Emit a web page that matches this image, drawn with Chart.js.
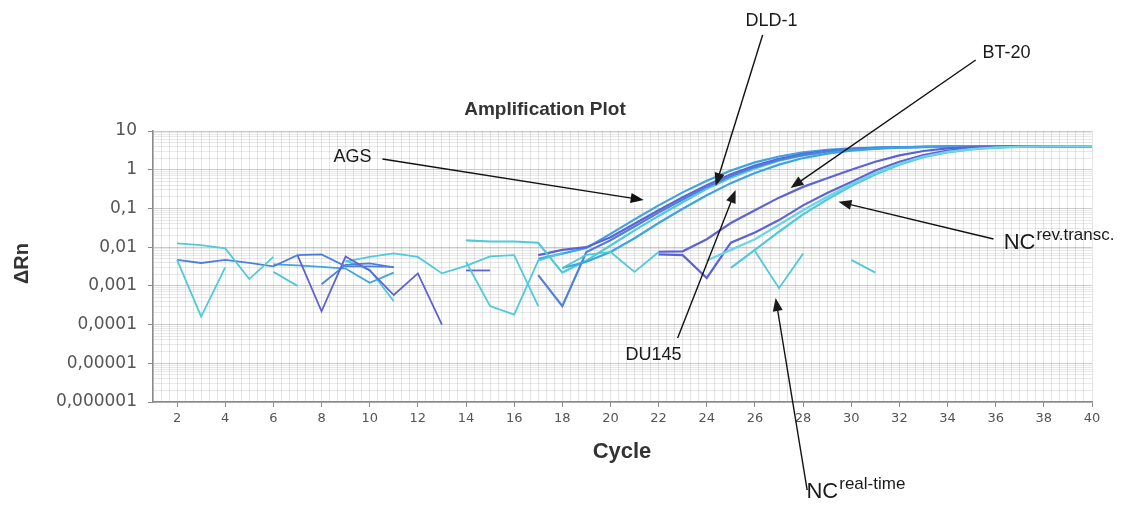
<!DOCTYPE html>
<html>
<head>
<meta charset="utf-8">
<title>Amplification Plot</title>
<script src="https://cdn.jsdelivr.net/npm/chart.js@4.4.1/dist/chart.umd.min.js"></script>
<style>
  html, body { margin: 0; padding: 0; background: #fff; }
  #wrap { width: 1126px; height: 513px; position: relative; }
</style>
</head>
<body>
<div id="wrap"><canvas id="amp"></canvas></div>
<script>
const _ = null;

// cycle axis + log axis labels
const cycles = [1,2,3,4,5,6,7,8,9,10,11,12,13,14,15,16,17,18,19,20,21,22,23,24,25,26,27,28,29,30,31,32,33,34,35,36,37,38,39,40];
const xLabelCycles = [2,4,6,8,10,12,14,16,18,20,22,24,26,28,30,32,34,36,38,40];
const yDecades = [0.000001, 0.00001, 0.0001, 0.001, 0.01, 0.1, 1, 10];
const yTickLabels = ['0,000001', '0,00001', '0,0001', '0,001', '0,01', '0,1', '1', '10'];

// ΔRn per cycle, one array per well (null = no log value)
const ags = [
  _,_,_,_,_,_,_,_,_,_,
  _,_,_,_,_,_,0.0050,0.0068,0.0095,0.022,
  0.052,0.12,0.26,0.52,0.95,1.55,2.2,2.8,3.25,3.55,
  3.75,3.85,3.92,3.96,3.98,4.0,4.0,4.0,4.0,4.0];
const dld1 = [
  _,_,_,_,_,_,_,_,_,_,
  _,_,_,_,_,_,0.0062,0.0085,0.0100,0.018,
  0.040,0.090,0.195,0.40,0.76,1.28,1.92,2.55,3.05,3.42,
  3.66,3.80,3.88,3.93,3.96,3.98,4.0,4.0,4.0,4.0];
const dld1Rep = [
  _,_,_,_,_,_,_,_,_,_,
  _,_,_,0.015,0.014,0.014,0.013,0.0022,0.0045,0.011,
  0.027,0.064,0.145,0.32,0.62,1.08,1.7,2.35,2.9,3.3,
  3.58,3.75,3.86,3.92,3.95,3.98,4.0,4.0,4.0,4.0];
const du145 = [
  _,_,_,_,_,_,_,_,_,_,
  _,_,_,_,_,_,0.0019,0.0003,0.0075,0.015,
  0.034,0.078,0.17,0.36,0.69,1.17,1.78,2.42,2.95,3.35,
  3.6,3.78,3.88,3.93,3.96,3.98,4.0,4.0,4.0,4.0];
const du145Rep = [
  _,_,_,_,_,_,_,_,_,_,
  _,_,_,_,_,_,_,0.0029,0.0042,0.0075,
  0.017,0.042,0.098,0.22,0.45,0.82,1.35,2.0,2.6,3.1,
  3.45,3.7,3.83,3.9,3.95,3.98,4.0,4.0,4.0,4.0];
const bt20 = [
  _,_,_,_,_,_,_,_,_,_,
  _,_,_,_,_,_,_,_,_,_,
  _,0.0076,0.0078,0.016,0.042,0.09,0.19,0.36,0.6,1.0,
  1.6,2.35,3.05,3.55,3.82,3.94,3.98,4.0,4.0,4.0];
const bt20Rep = [
  _,_,_,_,_,_,_,_,_,_,
  _,_,_,_,_,_,_,_,_,_,
  _,0.0065,0.0062,0.0016,0.013,0.024,0.05,0.12,0.25,0.48,
  0.95,1.6,2.4,3.1,3.55,3.82,3.95,4.0,4.0,4.0];
const ncRevTransc = [
  _,_,_,_,_,_,_,_,_,_,
  _,_,_,_,_,_,_,_,_,_,
  _,_,_,_,0.0029,0.0085,0.025,0.07,0.17,0.38,
  0.75,1.35,2.1,2.8,3.35,3.7,3.9,3.98,4.0,4.0];
const ncRevTranscRep = [
  _,_,_,_,_,_,_,_,_,_,
  _,_,_,_,_,_,_,_,_,_,
  _,_,_,0.0045,0.0085,0.016,0.038,0.09,0.2,0.42,
  0.82,1.42,2.2,2.9,3.42,3.75,3.92,3.98,4.0,4.0];
const ncRealTime = [
  _,_,_,_,_,_,_,_,_,_,
  _,_,_,_,_,_,_,_,_,_,
  _,_,_,_,_,0.008,0.00087,0.0068,_,0.0047,
  0.0022,_,_,_,_,_,_,_,_,_];

// background-only wells
const ntc1 = [_,0.0125,0.0113,0.0093,0.0015,0.0056,_,_,_,_, _,_,_,_,_,_,_,_,_,_, _,_,_,_,_,_,_,_,_,_, _,_,_,_,_,_,_,_,_,_];
const ntc2 = [_,0.0047,0.00016,0.0030,_,_,_,_,_,_, _,_,_,_,_,_,_,_,_,_, _,_,_,_,_,_,_,_,_,_, _,_,_,_,_,_,_,_,_,_];
const ntc3 = [_,0.0047,0.0039,0.0047,0.0039,0.0032,0.0062,0.0065,0.0032,0.0032, 0.0031,_,_,_,_,_,_,_,_,_, _,_,_,_,_,_,_,_,_,_, _,_,_,_,_,_,_,_,_,_];
const ntc4 = [_,_,_,_,_,_,0.0062,0.00022,0.0057,0.0025, 0.00058,0.0021,0.0001,_,_,_,_,_,_,_, _,_,_,_,_,_,_,_,_,_, _,_,_,_,_,_,_,_,_,_];
const ntc5 = [_,_,_,_,_,_,_,0.0011,0.0035,0.0038, 0.0030,_,_,_,_,_,_,_,_,_, _,_,_,_,_,_,_,_,_,_, _,_,_,_,_,_,_,_,_,_];
const ntc6 = [_,_,_,_,_,0.0036,0.0034,0.0031,0.0028,0.0012, 0.0022,_,_,_,_,_,_,_,_,_, _,_,_,_,_,_,_,_,_,_, _,_,_,_,_,_,_,_,_,_];
const ntc7 = [_,_,_,_,_,_,_,_,0.0042,0.0056, 0.0069,0.0056,0.0021,0.0033,0.0058,0.0062,0.0003,_,_,_, _,_,_,_,_,_,_,_,_,_, _,_,_,_,_,_,_,_,_,_];
const ntc8 = [_,_,_,_,_,0.0023,0.0010,_,_,_, _,_,_,_,_,_,_,_,_,_, _,_,_,_,_,_,_,_,_,_, _,_,_,_,_,_,_,_,_,_];
const ntc9 = [_,_,_,_,_,_,_,_,0.0045,0.0026, 0.0004,_,_,_,_,_,_,_,_,_, _,_,_,_,_,_,_,_,_,_, _,_,_,_,_,_,_,_,_,_];
const ntc10 = [_,_,_,_,_,_,_,_,_,_, _,_,_,0.0042,0.0003,0.00018,0.0045,0.0070,_,_, _,_,_,_,_,_,_,_,_,_, _,_,_,_,_,_,_,_,_,_];
const ntc11 = [_,_,_,_,_,_,_,_,_,_, _,_,_,0.0025,0.0025,_,_,_,_,_, _,_,_,_,_,_,_,_,_,_, _,_,_,_,_,_,_,_,_,_];
const ntc12 = [_,_,_,_,_,_,_,_,_,_, _,_,_,_,_,_,_,0.0029,0.0063,0.0075, 0.0023,0.0075,_,_,_,_,_,_,_,_, _,_,_,_,_,_,_,_,_,_];

const CYAN = '#4fcad8', LIGHT = '#3ba4e4', BLUE = '#4f7edc', VIOLET = '#5d63d5', PALE = '#6bd4e6';

const wells = [
  { data: ntc1, color: CYAN }, { data: ntc2, color: CYAN }, { data: ntc3, color: BLUE },
  { data: ntc4, color: VIOLET }, { data: ntc5, color: BLUE }, { data: ntc6, color: LIGHT },
  { data: ntc7, color: CYAN }, { data: ntc8, color: CYAN }, { data: ntc9, color: CYAN },
  { data: ntc10, color: CYAN }, { data: ntc11, color: VIOLET }, { data: ntc12, color: CYAN },
  { data: ncRealTime, color: CYAN },
  { data: ncRevTranscRep, color: PALE, curve: true }, { data: ncRevTransc, color: CYAN, curve: true },
  { data: bt20Rep, color: VIOLET, curve: true }, { data: bt20, color: VIOLET, curve: true },
  { data: du145Rep, color: LIGHT, curve: true }, { data: du145, color: BLUE, curve: true },
  { data: dld1Rep, color: CYAN, curve: true }, { data: dld1, color: VIOLET, curve: true },
  { data: ags, color: LIGHT, curve: true },
];

// labels + arrows, anchored in (cycle, ΔRn)
const callouts = [
  { text: 'AGS',   at: [10.08, 2.13],    align: 'right',  from: [10.53, 1.89],   to: [21.38, 0.165] },
  { text: 'DLD-1', at: [26.69, 6950],    align: 'center', from: [26.32, 3020],   to: [24.37, 0.38] },
  { text: 'BT-20', at: [36.45, 1035],    align: 'center', from: [35.17, 683],    to: [27.48, 0.337] },
  { text: 'DU145', at: [21.79, 1.63e-5], align: 'center', from: [22.79, 4.49e-5], to: [25.2, 0.299] },
  { text: 'NC', sup: 'rev.transc.', at: [36.33, 0.0128], align: 'left', from: [35.91, 0.0162], to: [29.47, 0.149] },
  { text: 'NC', sup: 'real-time',   at: [28.14, 4.7e-9], align: 'left', from: [28.17, 5.3e-9], to: [26.86, 4.85e-4] },
];

function isEvenCycle(v) {
  const r = Math.round(v);
  return Math.abs(v - r) < 1e-6 && xLabelCycles.includes(r);
}
function isDecade(v) {
  return yDecades.some(d => Math.abs(v / d - 1) < 1e-9);
}

function drawArrow(ctx, x1, y1, x2, y2) {
  const a = Math.atan2(y2 - y1, x2 - x1), len = 13, half = 5;
  const c = Math.cos(a), s = Math.sin(a);
  ctx.beginPath();
  ctx.moveTo(x1, y1);
  ctx.lineTo(x2 - c * len * 0.7, y2 - s * len * 0.7);
  ctx.stroke();
  ctx.beginPath();
  ctx.moveTo(x2, y2);
  ctx.lineTo(x2 - len * c + half * s, y2 - len * s - half * c);
  ctx.lineTo(x2 - len * c - half * s, y2 - len * s + half * c);
  ctx.closePath();
  ctx.fill();
}

const textLayer = {
  id: 'textLayer',
  afterDraw(chart) {
    const { ctx, chartArea: ca, scales: { x, y } } = chart;
    ctx.save();
    ctx.fillStyle = '#333';
    ctx.textAlign = 'center';
    ctx.textBaseline = 'middle';
    ctx.font = 'bold 19px "Liberation Sans", Arial, sans-serif';
    ctx.fillText('Amplification Plot', ca.left + 392, ca.top - 21);
    ctx.font = 'bold 22px "Liberation Sans", Arial, sans-serif';
    ctx.fillText('Cycle', ca.left + 469, ca.bottom + 50);
    ctx.save();
    ctx.translate(ca.left - 131, (ca.top + ca.bottom) / 2 - 3);
    ctx.rotate(-Math.PI / 2);
    ctx.font = 'bold 20px "Liberation Sans", Arial, sans-serif';
    ctx.fillText('ΔRn', 0, 0);
    ctx.restore();

    ctx.strokeStyle = '#111';
    ctx.fillStyle = '#111';
    ctx.lineWidth = 1.4;
    callouts.forEach(c => {
      drawArrow(ctx, x.getPixelForValue(c.from[0]), y.getPixelForValue(c.from[1]),
                     x.getPixelForValue(c.to[0]), y.getPixelForValue(c.to[1]));
      const tx = x.getPixelForValue(c.at[0]), ty = y.getPixelForValue(c.at[1]);
      ctx.fillStyle = '#1a1a1a';
      if (c.sup) {
        ctx.textAlign = 'left';
        ctx.font = '22px "Liberation Sans", Arial, sans-serif';
        ctx.fillText(c.text, tx, ty);
        const w = ctx.measureText(c.text).width;
        ctx.font = '17px "Liberation Sans", Arial, sans-serif';
        ctx.fillText(c.sup, tx + w + 1, ty - 8);
      } else {
        ctx.textAlign = c.align;
        ctx.font = '18px "Liberation Sans", Arial, sans-serif';
        ctx.fillText(c.text, tx, ty);
      }
    });
    ctx.restore();
  }
};

new Chart(document.getElementById('amp'), {
  type: 'line',
  data: {
    labels: cycles,
    datasets: wells.map(w => ({
      data: w.data,
      borderColor: w.color,
      borderWidth: w.curve ? 2.2 : 1.8,
      pointRadius: 0,
      fill: false,
      spanGaps: false,
      tension: 0,
    })),
  },
  options: {
    responsive: true,
    maintainAspectRatio: false,
    animation: false,
    events: [],
    layout: { padding: { left: 0, top: 131, right: 34, bottom: 0 } },
    plugins: { legend: { display: false }, tooltip: { enabled: false } },
    scales: {
      x: {
        type: 'linear', min: 1, max: 40,
        afterBuildTicks(scale) {
          const t = [];
          for (let k = 0; k <= 117; k++) t.push({ value: 1 + k / 3 });
          scale.ticks = t;
        },
        afterFit(scale) { scale.height = 111; },
        border: { display: true, color: '#8a8a8a', width: 1.5 },
        grid: {
          color: 'rgba(0,0,0,0.10)',
          borderDash: [2, 3],
          lineWidth: 1,
          tickLength: 5,
          tickColor: ctx => isEvenCycle(ctx.tick.value) ? '#8a8a8a' : 'rgba(0,0,0,0)',
        },
        ticks: {
          autoSkip: false, maxRotation: 0, minRotation: 0, padding: 4,
          color: '#555',
          font: { family: '"DejaVu Sans", sans-serif', size: 13 },
          callback: v => isEvenCycle(v) ? String(Math.round(v)) : '',
        },
      },
      y: {
        type: 'logarithmic', min: 0.000001, max: 10,
        afterBuildTicks(scale) {
          const t = [];
          yDecades.forEach((d, i) => {
            if (i === yDecades.length - 1) { t.push({ value: d }); return; }
            for (let m = 1; m <= 9; m++) t.push({ value: d * m });
          });
          scale.ticks = t;
        },
        afterFit(scale) { scale.width = 153; },
        border: { display: true, color: '#8a8a8a', width: 1.5 },
        grid: {
          color: ctx => isDecade(ctx.tick.value) ? 'rgba(0,0,0,0.20)' : 'rgba(0,0,0,0.09)',
          borderDash: [2, 3],
          lineWidth: 1,
          tickLength: 5,
          tickColor: ctx => isDecade(ctx.tick.value) ? '#8a8a8a' : 'rgba(0,0,0,0)',
        },
        ticks: {
          autoSkip: false, padding: 11,
          color: '#555',
          font: { family: '"DejaVu Sans", sans-serif', size: 17 },
          callback: v => {
            const i = yDecades.findIndex(d => Math.abs(v / d - 1) < 1e-9);
            return i >= 0 ? yTickLabels[i] : '';
          },
        },
      },
    },
  },
  plugins: [textLayer],
});
</script>
</body>
</html>
